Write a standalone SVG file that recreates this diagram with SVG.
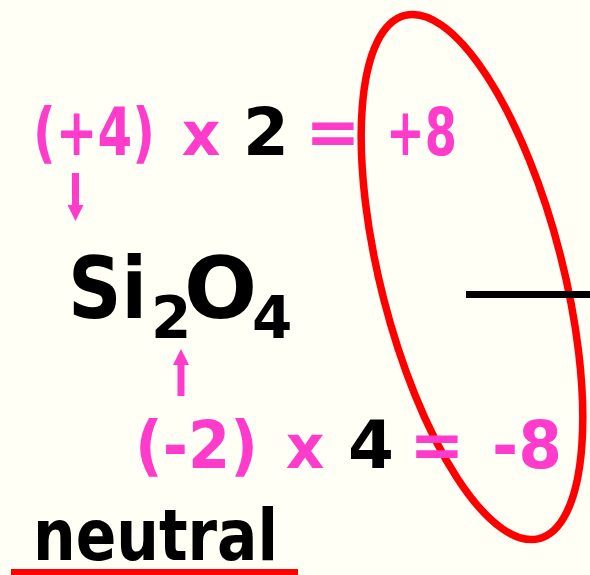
<svg xmlns="http://www.w3.org/2000/svg" width="590" height="575" viewBox="0 0 590 575">
  <defs>
    <style>
      .t { font-family: "DejaVu Sans", "Liberation Sans", sans-serif; font-weight: bold; }
      .c { text-anchor: middle; }
      .pk { fill: #FF3BCB; }
      .bk { fill: #000000; }
      .eq { font-size: 66px; }
      .mul { font-size: 60px; }
      .big { font-size: 86px; }
      .sub { font-size: 58px; }
      .conn { stroke: #FF3BCB; stroke-width: 7; fill: none; marker-end: url(#head); }
    </style>
    <marker id="head" viewBox="0 0 16 16" refX="0" refY="8" markerWidth="16" markerHeight="16" markerUnits="userSpaceOnUse" orient="auto">
      <path d="M0,0 L16,8 L0,16 z" fill="#FF3BCB"/>
    </marker>
  </defs>
  <rect x="0" y="0" width="590" height="575" fill="#FFFFF5"/>

  <g id="ellipse">
    <ellipse cx="472" cy="277" rx="91" ry="270" transform="rotate(-14.4 472 277)" fill="none" stroke="#FF0000" stroke-width="7.5"/>
  </g>

  <g id="bar">
    <rect x="466" y="291" width="124" height="7" fill="#000000"/>
  </g>

  <g id="top-equation">
    <text class="t eq pk" x="33" y="155" textLength="122" lengthAdjust="spacingAndGlyphs">(+4)</text>
    <text class="t mul pk c" x="201" y="155">x</text>
    <text class="t eq bk c" x="266" y="155">2</text>
    <text class="t eq pk c" x="333" y="155">=</text>
    <text class="t eq pk" x="386" y="155" textLength="71" lengthAdjust="spacingAndGlyphs">+8</text>
  </g>

  <g id="formula">
    <text class="t bk"><tspan class="big" x="68" y="318" textLength="79" lengthAdjust="spacingAndGlyphs">Si</tspan><tspan class="sub" x="151" y="338">2</tspan><tspan class="big" x="184" y="318">O</tspan><tspan class="sub" x="252" y="338">4</tspan></text>
  </g>

  <g id="bottom-equation">
    <text class="t eq pk" x="135" y="468" textLength="123" lengthAdjust="spacingAndGlyphs">(-2)</text>
    <text class="t mul pk c" x="305" y="468">x</text>
    <text class="t eq bk c" x="371" y="468">4</text>
    <text class="t eq pk c" x="437" y="468">=</text>
    <text class="t eq pk" x="492" y="468" textLength="70" lengthAdjust="spacingAndGlyphs">-8</text>
  </g>

  <g id="neutral">
    <text class="t bk" x="33" y="560" font-size="72" textLength="245" lengthAdjust="spacingAndGlyphs">neutral</text>
    <rect x="11" y="569" width="287" height="6" fill="#FF0000"/>
  </g>

  <g id="connectors">
    <line class="conn" x1="75.5" y1="173" x2="75.5" y2="205"/>
    <line class="conn" x1="181" y1="396" x2="181" y2="365"/>
  </g>
</svg>
